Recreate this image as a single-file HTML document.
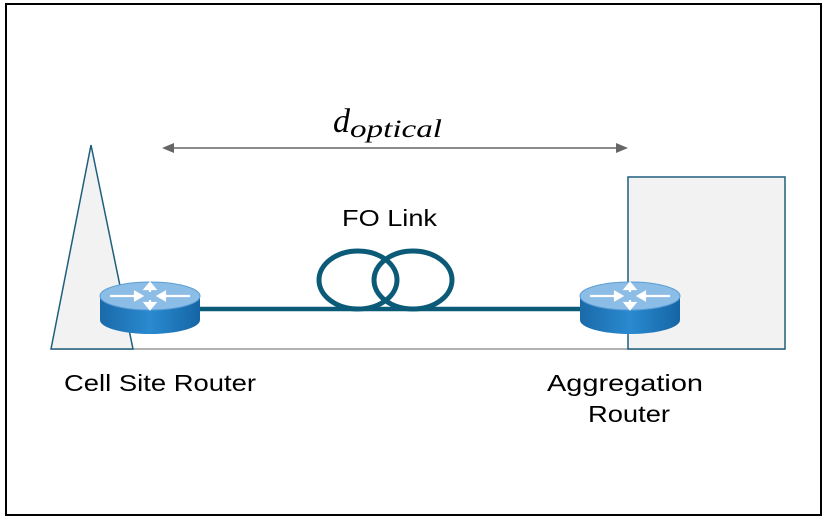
<!DOCTYPE html>
<html><head><style>
html,body{margin:0;padding:0;background:#fff;}
svg{display:block;}
</style></head><body>
<svg width="825" height="528" viewBox="0 0 825 528" xmlns="http://www.w3.org/2000/svg">
<defs>
<linearGradient id="side" x1="0" x2="1" y1="0" y2="0">
<stop offset="0" stop-color="#1a6aa8"/><stop offset="0.5" stop-color="#2a8ad0"/><stop offset="1" stop-color="#1565a5"/>
</linearGradient>
<g id="router">
<path d="M-50,0 L-50,24 A50,14 0 0 0 50,24 L50,0 Z" fill="url(#side)"/>
<ellipse cx="0" cy="0" rx="50" ry="14" fill="#8cbde6" stroke="#5a9dd4" stroke-width="1"/>
<g stroke="#fff" stroke-width="2.2" fill="#fff">
<line x1="-40" y1="0" x2="-12" y2="0"/><polygon points="-8,0 -15,-4 -15,4"/>
<line x1="40" y1="0" x2="12" y2="0"/><polygon points="8,0 15,-4 15,4"/>
<line x1="0" y1="-4" x2="0" y2="-10"/><polygon points="0,-13 -5,-7 5,-7"/>
<line x1="0" y1="4" x2="0" y2="10"/><polygon points="0,13 -5,7 5,7"/>
</g>
</g>
</defs>
<rect x="6" y="4" width="815" height="511" fill="none" stroke="#000" stroke-width="2"/>
<line x1="51" y1="349" x2="785" y2="349" stroke="#999" stroke-width="1.5"/>
<polygon points="91,145 51,349 133,349" fill="#f2f2f2" stroke="#1e5f7d" stroke-width="1.5"/>
<rect x="628" y="177" width="157" height="172" fill="#f2f2f2" stroke="#1e5f7d" stroke-width="1.5"/>
<line x1="170" y1="148" x2="620" y2="148" stroke="#666" stroke-width="1.5"/>
<polygon points="162,148 174,143 174,153" fill="#666"/>
<polygon points="628,148 616,143 616,153" fill="#666"/>
<text x="333" y="132" font-family="'Liberation Serif',serif" font-style="italic" font-size="34" fill="#000">d<tspan font-size="25" dy="5" textLength="92" lengthAdjust="spacingAndGlyphs">optical</tspan></text>
<text x="342" y="226" textLength="95" lengthAdjust="spacingAndGlyphs" font-family="'Liberation Sans',sans-serif" font-size="23" fill="#000">FO Link</text>
<line x1="195" y1="309" x2="590" y2="309" stroke="#0b5a78" stroke-width="4.5"/>
<ellipse cx="358" cy="280" rx="39" ry="29" fill="none" stroke="#0b5a78" stroke-width="5"/>
<ellipse cx="413" cy="280" rx="39" ry="29" fill="none" stroke="#0b5a78" stroke-width="5"/>
<use href="#router" x="150" y="296"/>
<use href="#router" x="630" y="296"/>
<text x="64" y="391" textLength="192" lengthAdjust="spacingAndGlyphs" font-family="'Liberation Sans',sans-serif" font-size="23" fill="#000">Cell Site Router</text>
<text x="547" y="391" textLength="156" lengthAdjust="spacingAndGlyphs" font-family="'Liberation Sans',sans-serif" font-size="23" fill="#000">Aggregation</text>
<text x="588" y="422" textLength="82" lengthAdjust="spacingAndGlyphs" font-family="'Liberation Sans',sans-serif" font-size="23" fill="#000">Router</text>
</svg>
</body></html>
